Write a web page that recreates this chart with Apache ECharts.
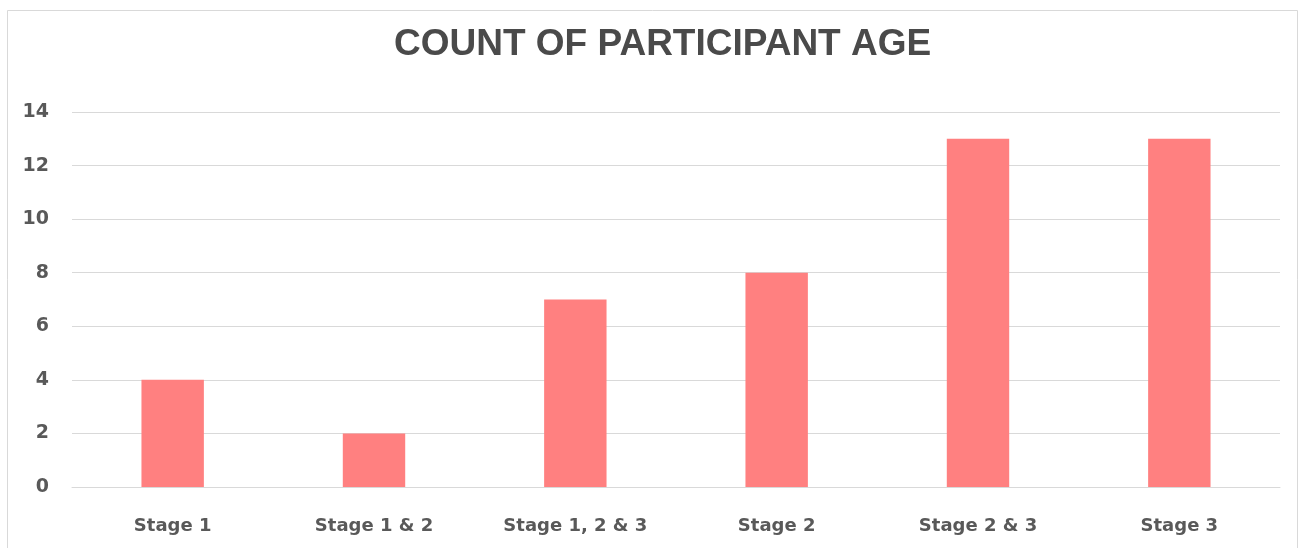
<!DOCTYPE html>
<html>
<head>
<meta charset="utf-8">
<script src="https://cdn.jsdelivr.net/npm/echarts@6/dist/echarts.min.js"></script>
<style>
html,body{margin:0;padding:0;background:#fff;}
#chart{width:1306px;height:548px;}
</style>
</head>
<body>
<div id="chart"></div>
<script>
const titleText = 'COUNT OF PARTICIPANT AGE';
const categories = ['Stage 1', 'Stage 1 & 2', 'Stage 1, 2 & 3', 'Stage 2', 'Stage 2 & 3', 'Stage 3'];
const counts = [4, 2, 7, 8, 13, 13];
const yTicks = [0, 2, 4, 6, 8, 10, 12, 14];

const chart = echarts.init(document.getElementById('chart'), null, {renderer: 'canvas'});
chart.setOption({
  backgroundColor: '#fff',
  animation: false,
  graphic: [{
    type: 'rect',
    shape: {x: 7.5, y: 10.5, width: 1290, height: 540},
    style: {fill: 'none', stroke: '#d9d9d9', lineWidth: 1},
    silent: true
  }],
  title: {
    text: titleText,
    left: 389,
    top: 21,
    textStyle: {
      fontFamily: 'Liberation Sans, Arial, sans-serif',
      fontWeight: 900,
      fontSize: 37,
      color: '#4a4a4a'
    }
  },
  grid: {left: 72, right: 26, top: 112, bottom: 61, containLabel: false},
  xAxis: {
    type: 'category',
    data: categories,
    axisTick: {show: false},
    axisLine: {show: true, lineStyle: {color: '#d9d9d9', width: 1}},
    axisLabel: {
      margin: 30,
      fontFamily: 'DejaVu Sans, sans-serif',
      fontWeight: 'bold',
      fontSize: 18,
      color: '#595959'
    }
  },
  yAxis: {
    type: 'value',
    min: yTicks[0],
    max: yTicks[yTicks.length - 1],
    interval: 2,
    axisLine: {show: false},
    axisTick: {show: false},
    splitLine: {lineStyle: {color: '#d9d9d9', width: 1}},
    axisLabel: {
      margin: 23,
      fontFamily: 'DejaVu Sans, sans-serif',
      fontWeight: 'bold',
      fontSize: 19,
      color: '#595959'
    }
  },
  series: [{
    type: 'bar',
    data: counts,
    barWidth: '31%',
    itemStyle: {color: '#FF8080'}
  }]
});
</script>
</body>
</html>
